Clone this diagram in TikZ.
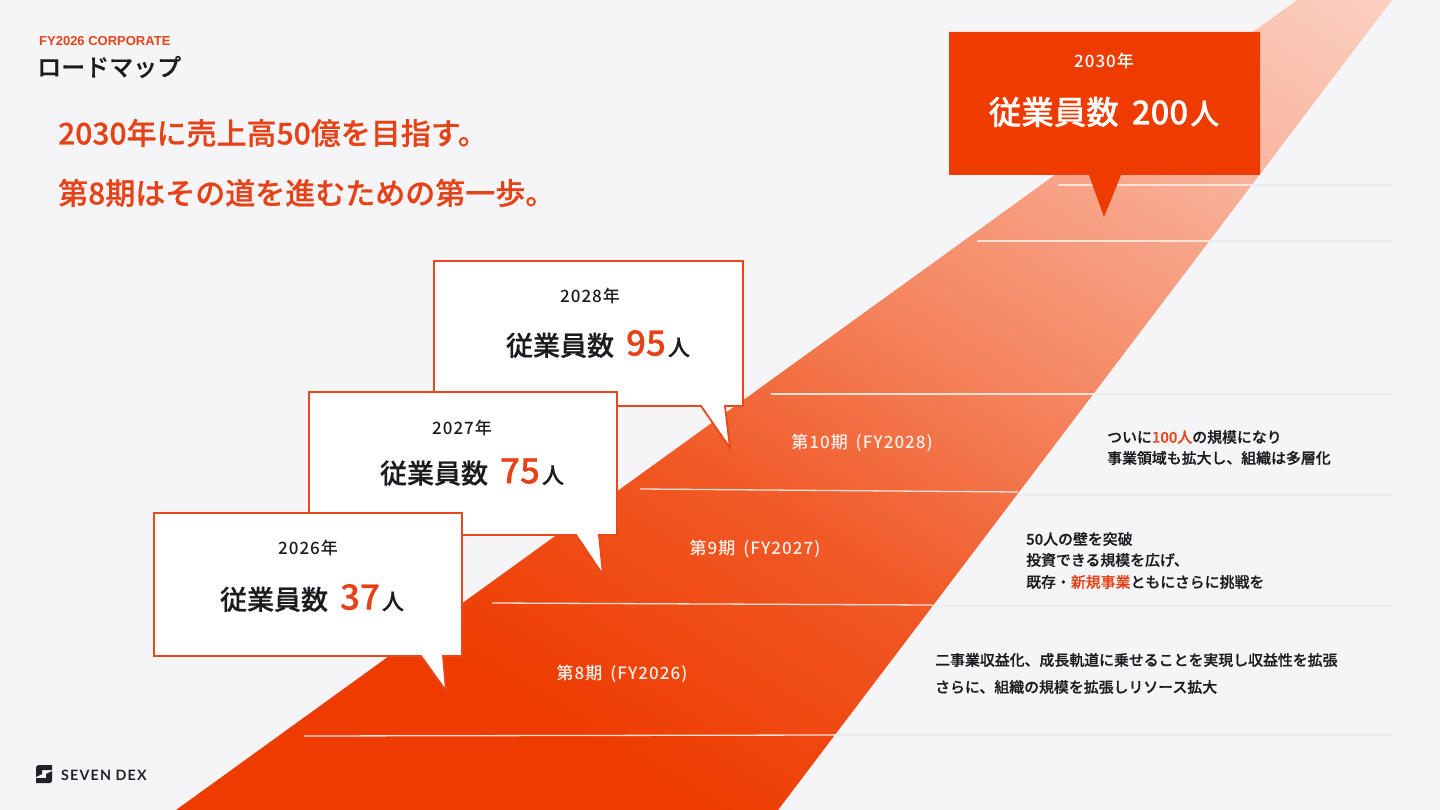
\documentclass[tikz,border=0pt]{standalone}
\usepackage{fontspec}
\setmainfont[UprightFont=* Medium,BoldFont=* Bold]{Noto Sans CJK JP}
\newfontfamily\strongfont[UprightFont=* Medium,FakeBold=0.5]{Noto Sans CJK JP}
\newfontfamily\spacedfont[UprightFont=* Medium,LetterSpace=6]{Noto Sans CJK JP}
\newfontfamily\latinbold{Liberation Sans}
\newfontfamily\logofont[LetterSpace=8]{Lato}
\definecolor{sdorange}{RGB}{238,60,0}
\definecolor{sdstroke}{RGB}{232,72,28}
\definecolor{sdhead}{RGB}{230,66,24}
\definecolor{sdpaper}{RGB}{245,245,248}
\definecolor{sdink}{RGB}{28,28,32}
\definecolor{sdrule}{RGB}{236,236,240}
\definecolor{sdlogo}{RGB}{32,34,40}
\usetikzlibrary{positioning}
\pgfdeclareverticalshading{bandfade}{100bp}{
  color(0bp)=(sdorange);
  color(30bp)=(sdorange);
  color(45bp)=(sdorange!85!white);
  color(58bp)=(sdorange!62!white);
  color(75bp)=(sdorange!36!white);
  color(88bp)=(sdorange!20!white);
  color(100bp)=(sdorange!8!white)}
\newcommand{\fsz}[1]{\fontsize{#1}{#1}\selectfont}
\begin{document}
\begin{tikzpicture}[x=1pt,y=-1pt,
  yeartext/.style={font=\spacedfont\fsz{17}, text=sdink, inner sep=0pt},
  stafftext/.style={font=\strongfont\fsz{27}, text=sdink, inner sep=0pt},
  termtext/.style={font=\spacedfont\fsz{17}, text=white!92!sdorange, inner sep=0pt},
  notetext/.style={font=\strongfont\fsz{14.9}, text=sdink, anchor=west, inner sep=0pt},
  headtext/.style={font=\strongfont\fsz{30}, text=sdhead, anchor=west, inner sep=0pt},
  talkbox/.style={draw=sdstroke, line width=1.8pt, fill=white, line join=miter},
  bandrule/.style={draw=white!85!sdorange, line width=1.3pt},
  paperrule/.style={draw=sdrule, line width=1.1pt}
]
\useasboundingbox (0,0) rectangle (1440,810);
\fill[sdpaper] (0,0) rectangle (1440,810);

% band
\path[shading=bandfade, shading angle=-32] (176,810) -- (1297,0) -- (1392,0) -- (778,810) -- cycle;

% rules
\draw[paperrule] (1250,185) -- (1392,185);
\draw[paperrule] (1208,241) -- (1392,241);
\draw[paperrule] (1092,394) -- (1392,394);
\draw[paperrule] (1018,495) -- (1392,495);
\draw[paperrule] (932,606) -- (1392,606);
\draw[paperrule] (834,735) -- (1392,735);
\draw[bandrule] (1058,185) -- (1251,185);
\draw[bandrule] (977,241) -- (1209,241);
\draw[bandrule] (771,394) -- (1093,394);
\draw[bandrule] (640,489) -- (1018,492);
\draw[bandrule] (492,603) -- (932,605);
\draw[bandrule] (304,736) -- (834,735);

% heading
\node[font=\latinbold\fsz{13}\bfseries, text=sdhead, anchor=west, inner sep=0pt] (kicker) at (39,41) {FY2026 CORPORATE};
\node[font=\strongfont\fsz{24}, text=sdink, anchor=west, inner sep=0pt] (title) at (37,67) {ロードマップ};
\node[headtext] (lead1) at (58,133) {2030年に売上高50億を目指す。};
\node[headtext] (lead2) at (58,193) {第8期はその道を進むための第一歩。};

% callouts
\draw[talkbox] (434,261) -- (743,261) -- (743,406) -- (725,406) -- (730,448) -- (701,406) -- (434,406) -- cycle;
\draw[talkbox] (309,392) -- (617,392) -- (617,535) -- (599,535) -- (603,575) -- (576,535) -- (309,535) -- cycle;
\draw[talkbox] (154,513) -- (462,513) -- (462,656) -- (443,656) -- (446,691) -- (421,656) -- (154,656) -- cycle;
\fill[sdorange] (949,32) -- (1260,32) -- (1260,175) -- (1121,175) -- (1104,217) -- (1089,175) -- (949,175) -- cycle;

\node[yeartext] (y2028) at (590,296) {2028年};
\node[stafftext] (n2028) at (598,344) {従業員数\hspace{12pt}\textcolor{sdhead}{\fsz{35}95}\hspace{2pt}\fsz{22}人};
\node[yeartext] (y2027) at (462,428) {2027年};
\node[stafftext] (n2027) at (472,472) {従業員数\hspace{12pt}\textcolor{sdhead}{\fsz{35}75}\hspace{2pt}\fsz{22}人};
\node[yeartext] (y2026) at (308,548) {2026年};
\node[stafftext] (n2026) at (312,598) {従業員数\hspace{12pt}\textcolor{sdhead}{\fsz{35}37}\hspace{2pt}\fsz{22}人};
\node[yeartext, text=white] (y2030) at (1104,61) {2030年};
\node[stafftext, text=white, font=\strongfont\fsz{32.5}] (n2030) at (1104,112) {従業員数\hspace{13pt}\fsz{33}200\hspace{2pt}\fsz{29}人};

% terms
\node[termtext] (t2028) at (862,443) {第10期\hspace{8pt}(FY2028)};
\node[termtext] (t2027) at (755,549) {第9期\hspace{8pt}(FY2027)};
\node[termtext] (t2026) at (622,674) {第8期\hspace{8pt}(FY2026)};

% notes
\node[notetext] (c1) at (1107,437) {ついに\textcolor{sdhead}{100人}の規模になり};
\node[notetext] (c2) at (1107,458) {事業領域も拡大し、組織は多層化};
\node[notetext] (b1) at (1026,539) {50人の壁を突破};
\node[notetext] (b2) at (1026,560) {投資できる規模を広げ、};
\node[notetext] (b3) at (1026,582) {既存・\textcolor{sdhead}{新規事業}ともにさらに挑戦を};
\node[notetext] (a1) at (935,660) {二事業収益化、成長軌道に乗せることを実現し収益性を拡張};
\node[notetext] (a2) at (935,687) {さらに、組織の規模を拡張しリソース拡大};

% logo
\fill[sdlogo] (38,765) -- (52,765) -- (52,770) -- (42,770) -- (42,774) -- (36,777) -- (36,767) -- cycle;
\fill[sdlogo] (50,783) -- (36,783) -- (36,778) -- (46,778) -- (46,774) -- (52,771) -- (52,781) -- cycle;
\node[font=\logofont\fsz{14.3}\bfseries, text=sdlogo, anchor=west, inner sep=0pt] (brand) at (61,775) {SEVEN DEX};
\end{tikzpicture}
\end{document}
